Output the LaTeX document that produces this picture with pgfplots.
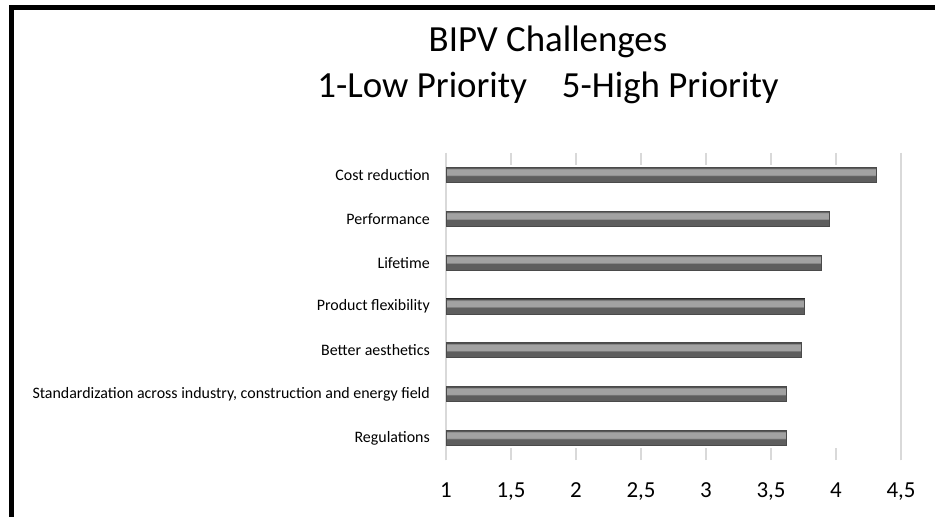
\documentclass[border=0pt]{standalone}
\usepackage{pgfplots}
\pgfplotsset{compat=1.18}
\usepackage{fontspec}
\setmainfont{Carlito}
\definecolor{gridgray}{HTML}{D9D9D9}
\definecolor{barA}{HTML}{4A4A4A}
\definecolor{barB}{HTML}{5E5E5E}
\definecolor{barC}{HTML}{A2A2A2}
\definecolor{barD}{HTML}{8A8A8A}
\pgfdeclareverticalshading{barshade}{100bp}{%
  color(0bp)=(barA); color(25bp)=(barA); color(27bp)=(barB); color(46bp)=(barB);
  color(49bp)=(barD); color(51bp)=(barC); color(68bp)=(barC); color(71bp)=(barD);
  color(73bp)=(barB); color(75bp)=(barA); color(100bp)=(barA)}
\pgfplotsset{mybar/.style={shading=barshade, draw=barA, line width=0.8bp}}
\begin{document}
\begin{tikzpicture}
\useasboundingbox (0,0) rectangle (935bp,517bp);
\fill[white] (0,0) rectangle (935bp,517bp);
\draw[black, line width=5bp] (11.5bp,-20bp) -- (11.5bp,509.5bp) -- (960bp,509.5bp);
\node[anchor=base, font=\fontsize{37}{44}\selectfont] at (548bp,465bp) {BIPV Challenges};
\node[anchor=base, font=\fontsize{37}{44}\selectfont] at (548bp,419bp) {1-Low Priority\hspace{0.95em}5-High Priority};
\begin{axis}[
  at={(446bp,57bp)}, anchor=south west,
  scale only axis, width=455bp, height=307bp,
  xmin=1, xmax=4.5, ymin=-0.5, ymax=6.5,
  xbar, bar width=15bp, bar shift=0pt,
  axis line style={draw=none},
  xtick={1,1.5,2,2.5,3,3.5,4,4.5},
  xticklabels={1,{1,5},2,{2,5},3,{3,5},4,{4,5}},
  tick align=inside, major tick length=12bp,
  xtick pos=both,
  x tick style={draw=gridgray, line width=1.4bp},
  extra x ticks={1,4.5}, extra x tick labels={},
  extra x tick style={grid=major, major grid style={draw=gridgray, line width=1.4bp}, tick style={draw=none}},
  ytick={0,1,2,3,4,5,6},
  yticklabels={Regulations,{Standardization across industry, construction and energy field},Better aesthetics,Product flexibility,Lifetime,Performance,Cost reduction},
  y tick style={draw=none},
  yticklabel style={font=\fontsize{16}{19}\selectfont, inner sep=0pt, xshift=-16bp},
  xticklabel style={font=\fontsize{23}{27}\selectfont, inner sep=0pt, anchor=base, yshift=-37bp},
  clip=false,
]
\addplot[mybar] coordinates {(4.31,6)};
\addplot[mybar] coordinates {(3.95,5)};
\addplot[mybar] coordinates {(3.89,4)};
\addplot[mybar] coordinates {(3.76,3)};
\addplot[mybar] coordinates {(3.735,2)};
\addplot[mybar] coordinates {(3.62,1)};
\addplot[mybar] coordinates {(3.62,0)};
\end{axis}
\end{tikzpicture}
\end{document}
